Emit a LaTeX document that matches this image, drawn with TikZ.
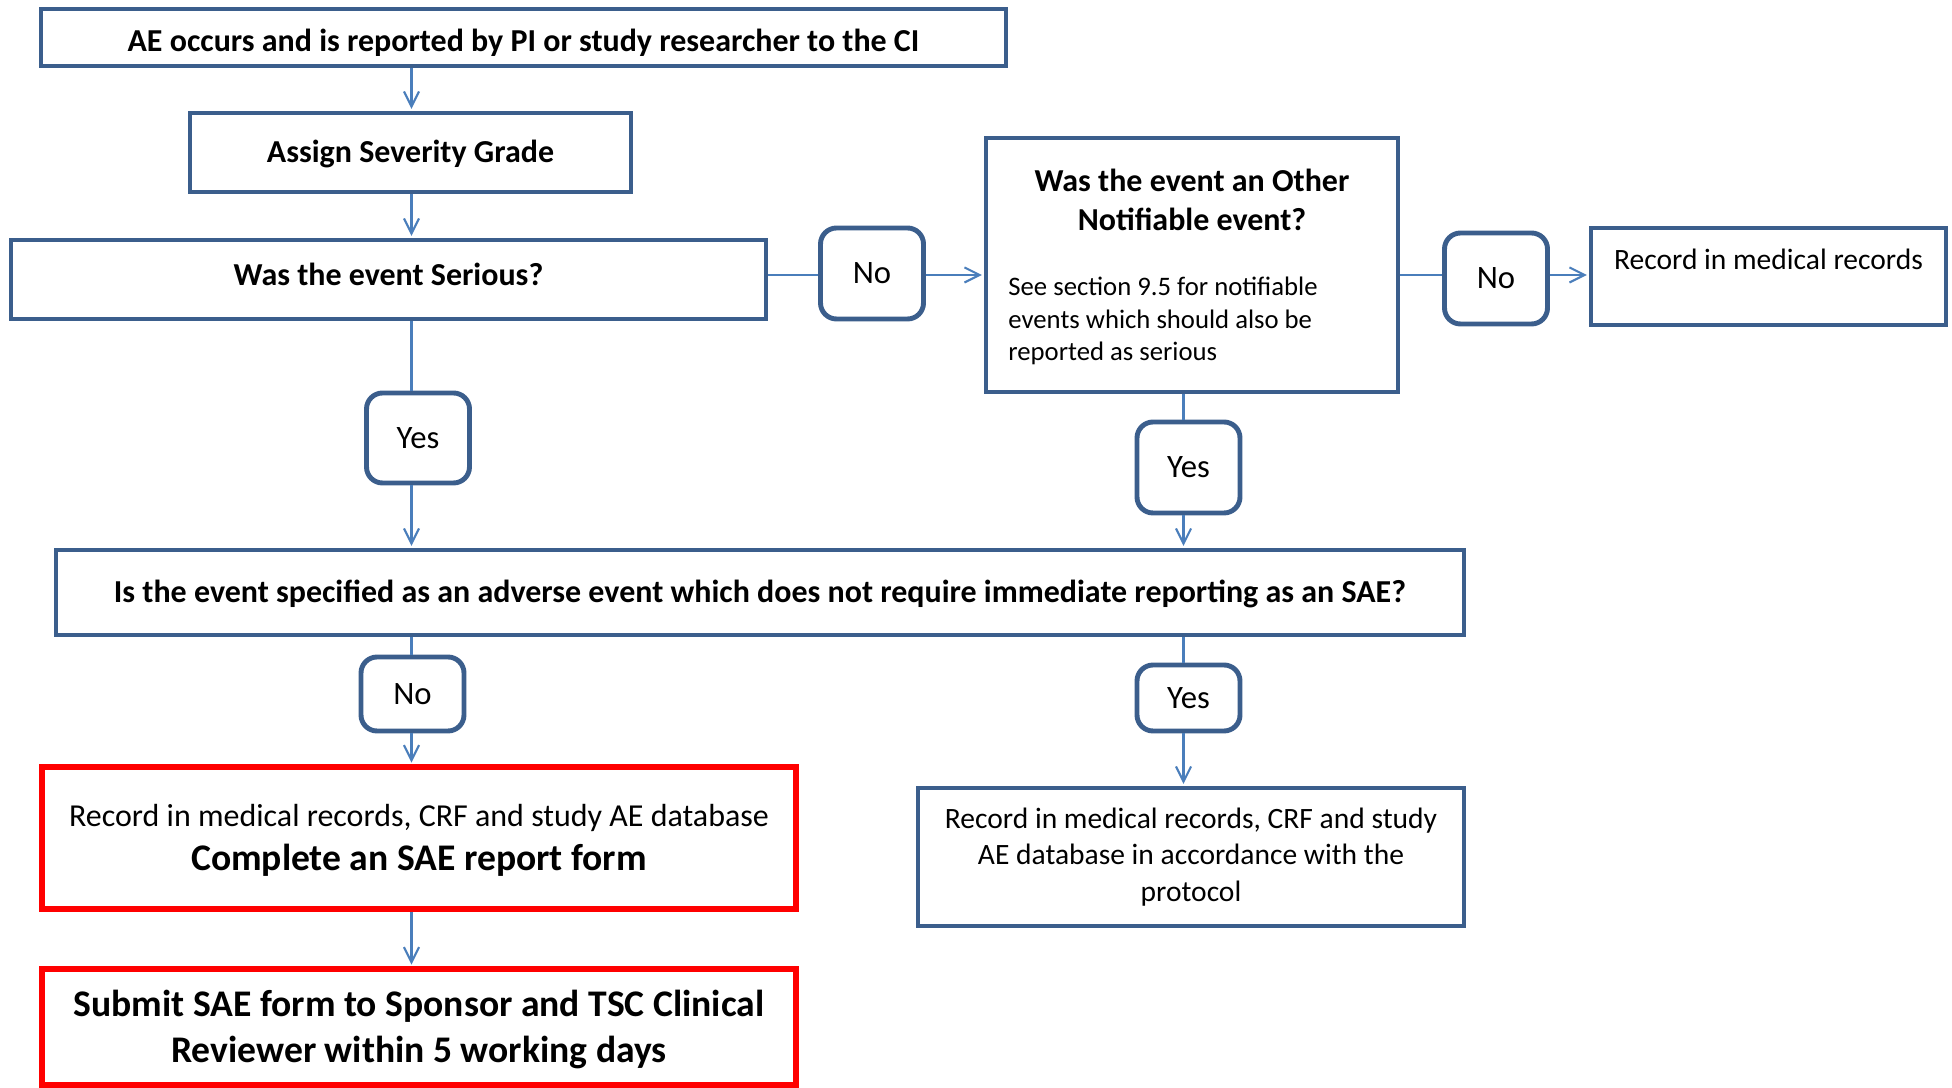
\documentclass[tikz,border=0pt]{standalone}
\usepackage{fontspec}
\setmainfont{Carlito}
\usetikzlibrary{arrows.meta}
\definecolor{boxblue}{HTML}{3B5E8C}
\definecolor{lineblue}{HTML}{4A7EBB}
\definecolor{alertred}{HTML}{FF0000}

\begin{document}
\begin{tikzpicture}[x=0.1mm, y=-0.1mm,
    box/.style={draw=boxblue, line width=1.3pt, align=center, inner sep=0pt},
    answer/.style={draw=boxblue, line width=1.4pt, rounded corners=1.6mm,
      minimum width=10.3mm, inner sep=0pt, font=\fontsize{9.3}{11}\selectfont},
    redbox/.style={draw=alertred, line width=1.5pt, align=center, inner sep=0pt},
    conn/.style={draw=lineblue, line width=0.6pt},
    arr/.style={conn, -{Straight Barb[length=4.3pt, width=4.3pt]}, shorten >=0.5pt},
    boldtxt/.style={font=\bfseries\fontsize{9.1}{11}\selectfont}]

  % --- frame of the page (pixel grid, y runs down)
  \useasboundingbox (0,0) rectangle (1952,1088);

  % --- columns and row the connectors follow
  \coordinate (colL) at (411.5,0);
  \coordinate (colR) at (1183.5,0);
  \coordinate (rowN) at (0,275);

  % --- first question
  \node[box, minimum width=96.5mm, minimum height=5.7mm] (top) at (523.5,37.5) {};
  \begin{scope}
    % text runs over the lower edge in the original, keep it cut
    \clip (top.north west) rectangle ([yshift=3.6pt]top.south east);
    \node[boldtxt, anchor=base] (toptext) at (523.5,52)
      {AE occurs and is reported by PI or study researcher to the CI};
  \end{scope}
  \node[box, boldtxt, text depth=0.5pt, minimum width=44.1mm, minimum height=7.9mm] (grade) at (410.5,152.5)
    {Assign Severity Grade};
  \node[box, boldtxt, text depth=3pt, minimum width=75.5mm, minimum height=7.9mm] (serious) at (388.5,279.5)
    {Was the event Serious?};

  % --- other notifiable event branch
  \node[answer, minimum height=9.1mm] (no1) at (872,273.5) {No};
  \node[box, minimum width=41.2mm, minimum height=25.4mm] (other) at (1192,265) {};
  \node[boldtxt, align=center] (othertitle) at (1192,200)
    {Was the event an Other\\Notifiable event?};
  \node[align=left, anchor=west, font=\fontsize{7.6}{9.2}\selectfont] (othernote) at (996,321)
    {See section 9.5 for notifiable\\events which should also be\\reported as serious};
  \node[answer, minimum height=9.1mm] (no2) at (1496,278.5) {No};
  \node[box, minimum width=35.5mm, minimum height=9.7mm] (record) at (1768.5,276.5) {};
  \node[font=\fontsize{8.4}{10}\selectfont] (recordtxt) at (1768.5,259) {Record in medical records};

  % --- yes answers into the SAE question
  \node[answer, minimum height=9mm] (yes1) at (418,438) {Yes};
  \node[answer, minimum height=9.1mm] (yes2) at (1188.5,467.5) {Yes};
  \node[box, boldtxt, text depth=0.5pt, minimum width=140.8mm, minimum height=8.5mm] (event) at (760,592.5)
    {Is the event specified as an adverse event which does not require immediate reporting as an SAE?};

  % --- outcomes
  \node[answer, minimum height=7.4mm] (no3) at (412.5,694) {No};
  \node[answer, minimum height=6.6mm] (yes3) at (1188.5,698) {Yes};
  \node[redbox, text depth=0.5pt, minimum width=75.4mm, minimum height=14.2mm, font=\fontsize{9.1}{12.5}\selectfont] (redA) at (419,838)
    {Record in medical records, CRF and study AE database\\
     {\bfseries\fontsize{10.7}{12.5}\selectfont Complete an SAE report form}};
  \node[redbox, text depth=0.5pt, minimum width=75.4mm, minimum height=11.6mm, font=\bfseries\fontsize{10.7}{13.1}\selectfont] (redB) at (419,1027)
    {Submit SAE form to Sponsor and TSC Clinical\\Reviewer within 5 working days};
  \node[box, minimum width=54.6mm, minimum height=13.8mm, font=\fontsize{8.4}{10.3}\selectfont] (protocol) at (1191,857)
    {Record in medical records, CRF and study\\AE database in accordance with the\\protocol};

  % --- connectors
  \draw[arr] (top.south -| colL) -- (grade.north -| colL);
  \draw[arr] (grade.south -| colL) -- (serious.north -| colL);
  \draw[conn] (serious.south -| colL) -- (yes1.north -| colL);
  \draw[arr] (yes1.south -| colL) -- (event.north -| colL);
  \draw[conn] (event.south -| colL) -- (no3.north -| colL);
  \draw[arr] (no3.south -| colL) -- (redA.north -| colL);
  \draw[arr] (redA.south -| colL) -- (redB.north -| colL);
  \draw[conn] (serious.east |- rowN) -- (no1.west |- rowN);
  \draw[arr] (no1.east |- rowN) -- (other.west |- rowN);
  \draw[conn] (other.east |- rowN) -- (no2.west |- rowN);
  \draw[arr] (no2.east |- rowN) -- (record.west |- rowN);
  \draw[conn] (other.south -| colR) -- (yes2.north -| colR);
  \draw[arr] (yes2.south -| colR) -- (event.north -| colR);
  \draw[conn] (event.south -| colR) -- (yes3.north -| colR);
  \draw[arr] (yes3.south -| colR) -- (protocol.north -| colR);
\end{tikzpicture}
\end{document}
